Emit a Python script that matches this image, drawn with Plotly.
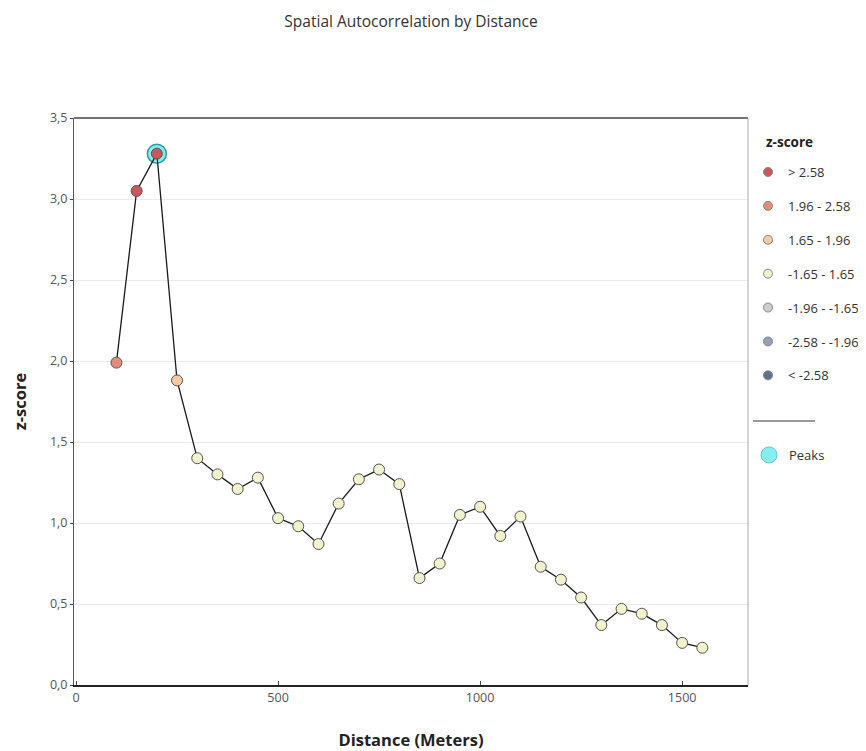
import plotly.graph_objects as go

distance = [100, 150, 200, 250, 300, 350, 400, 450, 500, 550, 600, 650, 700, 750, 800,
            850, 900, 950, 1000, 1050, 1100, 1150, 1200, 1250, 1300, 1350, 1400, 1450, 1500, 1550]
zscore = [1.99, 3.05, 3.28, 1.88, 1.40, 1.30, 1.21, 1.28, 1.03, 0.98, 0.87, 1.12, 1.27, 1.33, 1.24,
          0.66, 0.75, 1.05, 1.10, 0.92, 1.04, 0.73, 0.65, 0.54, 0.37, 0.47, 0.44, 0.37, 0.26, 0.23]
peak_distance = [200]
peak_zscore = [3.28]

bin_labels = ["> 2.58", "1.96 - 2.58", "1.65 - 1.96", "-1.65 - 1.65",
              "-1.96 - -1.65", "-2.58 - -1.96", "< -2.58"]
bin_colors = ["#c9585a", "#df8f7c", "#f4c9a4", "#f2f2cc", "#cdcdcd", "#93a3b3", "#5d7391"]
bin_edges = [2.58, 1.96, 1.65, -1.65, -1.96, -2.58]


def bin_color(z):
    for i, e in enumerate(bin_edges):
        if z > e:
            return bin_colors[i]
    return bin_colors[-1]


marker_colors = [bin_color(z) for z in zscore]

font = "Open Sans, DejaVu Sans, sans-serif"
fig = go.Figure()

# peak highlight (behind)
fig.add_trace(go.Scatter(
    x=peak_distance, y=peak_zscore, mode="markers",
    marker=dict(size=19, color="#86eef0", line=dict(color="#2a9ea6", width=1.5)),
    showlegend=False, hoverinfo="skip"))

# main series
fig.add_trace(go.Scatter(
    x=distance, y=zscore, mode="lines+markers",
    line=dict(color="#1a1a1a", width=1.3),
    marker=dict(size=11, color=marker_colors, line=dict(color="#555555", width=1)),
    showlegend=False))

# legend entries
for lab, col in zip(bin_labels, bin_colors):
    fig.add_trace(go.Scatter(
        x=[None], y=[None], mode="markers", name=lab, legendgroup=lab,
        marker=dict(size=9, color=col, line=dict(color="#888888", width=1)),
        legend="legend"))

fig.add_trace(go.Scatter(
    x=[None], y=[None], mode="markers", name="Peaks",
    marker=dict(size=19, color="#86eef0", line=dict(color="#5fc8cc", width=1)),
    legend="legend2"))

# page has an 8px body margin: work in figure coordinates (screen - 8)
OFF = 8
W, H = 866 - OFF, 751 - OFF
PT, PB, PL, PR = 118 - OFF, 685 - OFF, 74 - OFF, 748 - OFF
ph = PB - PT
pw = PR - PL


def px(xs):
    return (xs - OFF - PL) / pw


def py(ys):
    return (PB - (ys - OFF)) / ph


fig.update_layout(
    width=W, height=H,
    paper_bgcolor="white", plot_bgcolor="white",
    separators=",.",
    margin=dict(l=PL, r=W - PR, t=PT, b=H - PB, autoexpand=False),
    font=dict(family=font, size=12, color="#333333"),
    title=dict(text="Spatial Autocorrelation by Distance", x=0.5, xref="paper",
               y=1 - (22 - OFF) / H, yanchor="middle",
               font=dict(family=font, size=15.5, color="#333333")),
    legend=dict(
        x=px(748), xanchor="left", y=py(157), yanchor="top",
        tracegroupgap=14, bgcolor="rgba(0,0,0,0)", font=dict(size=13, color="#333")),
    legend2=dict(
        x=px(749), xanchor="left", y=py(455), yanchor="middle",
        bgcolor="rgba(0,0,0,0)", font=dict(size=13, color="#333")),
    xaxis=dict(
        range=[-5, 1663], tickvals=[0, 500, 1000, 1500], ticks="inside", ticklen=4,
        showgrid=False, zeroline=False, showline=True, linecolor="#222", linewidth=2,
        mirror=False, tickfont=dict(size=12.5, color="#555"), automargin=False,
        title=dict(text="<b>Distance (Meters)</b>", font=dict(size=16.5, color="#222"), standoff=30)),
    yaxis=dict(
        range=[0, 3.5], dtick=0.5, tickformat=".1f", ticks="outside", ticklen=3,
        showgrid=True, gridcolor="#ebebeb", zeroline=False, showline=True,
        linecolor="#555", linewidth=1, tickfont=dict(size=12.5, color="#555"), automargin=False,
        title=dict(text="<b>z-score</b>", font=dict(size=16.5, color="#222"), standoff=34)),
    annotations=[
        dict(text="<b>z-score</b>", xref="paper", yref="paper",
             x=px(764), y=py(142), xanchor="left", yanchor="middle",
             showarrow=False, font=dict(size=13.5, color="#222")),
    ],
    shapes=[
        dict(type="line", xref="paper", yref="paper", x0=0, x1=1, y0=1, y1=1,
             line=dict(color="#444", width=1.5)),
        dict(type="line", xref="paper", yref="paper", x0=1, x1=1, y0=0, y1=1,
             line=dict(color="#aaaaaa", width=1)),
        dict(type="line", xref="paper", yref="paper",
             x0=px(753), x1=px(815), y0=py(421), y1=py(421),
             line=dict(color="#333", width=1)),
    ],
)

fig.write_html("out.html")
